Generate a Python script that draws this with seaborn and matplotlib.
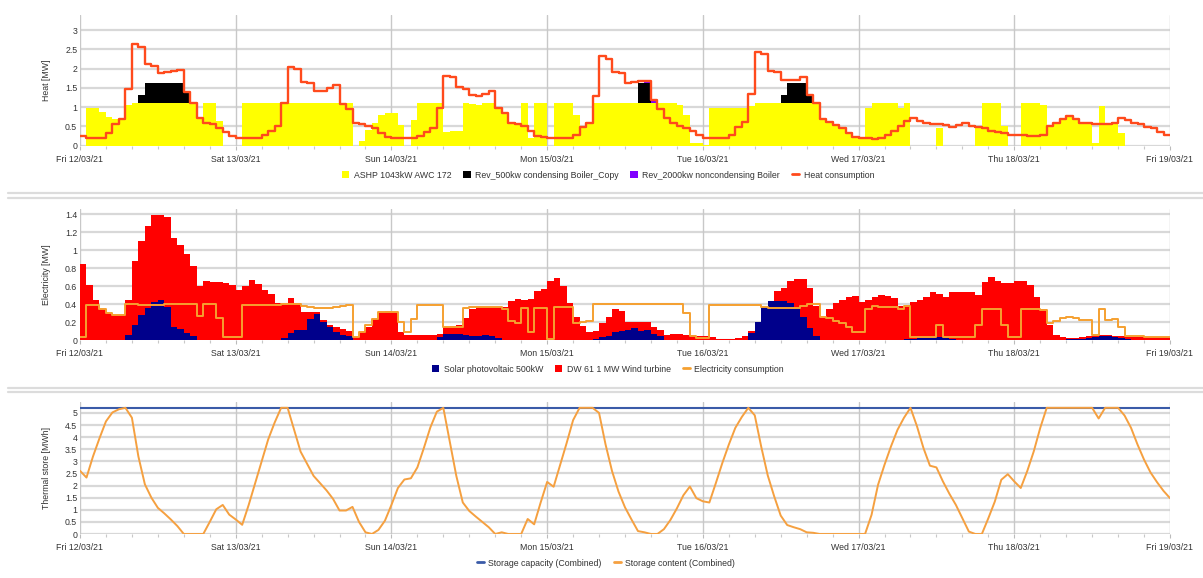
import numpy as np
import pandas as pd
import matplotlib
matplotlib.use("Agg")
import matplotlib.pyplot as plt
from matplotlib.patches import Patch
from matplotlib.lines import Line2D
import seaborn as sns

# ---------------- data (hourly, Fri 12/03/21 00:00 -> Fri 19/03/21 00:00) ----------------
day_labels = ["Fri 12/03/21", "Sat 13/03/21", "Sun 14/03/21", "Mon 15/03/21",
              "Tue 16/03/21", "Wed 17/03/21", "Thu 18/03/21", "Fri 19/03/21"]

heat_consumption = [
    0.25, 0.21, 0.21, 0.21, 0.34, 0.55, 0.69, 1.47, 2.63, 2.56, 2.13, 2.07, 1.88, 1.90, 1.93, 1.96, 1.40, 1.10, 0.71, 0.60, 0.55, 0.47, 0.35, 0.25,
    0.21, 0.21, 0.21, 0.21, 0.28, 0.39, 0.52, 1.12, 2.03, 1.99, 1.65, 1.62, 1.42, 1.42, 1.49, 1.58, 1.09, 0.94, 0.60, 0.57, 0.52, 0.45, 0.34, 0.23,
    0.21, 0.19, 0.19, 0.19, 0.25, 0.35, 0.45, 0.99, 1.81, 1.77, 1.51, 1.47, 1.31, 1.29, 1.33, 1.41, 0.99, 0.86, 0.58, 0.55, 0.51, 0.38, 0.25, 0.22,
    0.21, 0.21, 0.21, 0.21, 0.29, 0.49, 0.60, 1.30, 2.33, 2.26, 1.92, 1.89, 1.63, 1.66, 1.68, 1.69, 1.18, 0.94, 0.71, 0.60, 0.52, 0.45, 0.38, 0.28,
    0.21, 0.21, 0.21, 0.21, 0.28, 0.48, 0.62, 1.34, 2.44, 2.38, 1.94, 1.92, 1.70, 1.70, 1.70, 1.79, 1.31, 1.11, 0.68, 0.62, 0.54, 0.47, 0.34, 0.22,
    0.21, 0.21, 0.17, 0.20, 0.28, 0.38, 0.51, 0.65, 0.71, 0.65, 0.58, 0.55, 0.55, 0.54, 0.48, 0.54, 0.58, 0.52, 0.48, 0.45, 0.39, 0.35, 0.32, 0.28,
    0.29, 0.27, 0.26, 0.25, 0.28, 0.52, 0.60, 0.69, 0.78, 0.69, 0.60, 0.58, 0.56, 0.56, 0.56, 0.60, 0.71, 0.67, 0.60, 0.55, 0.49, 0.45, 0.36, 0.29,
]

ashp_heat = [
    0.00, 0.99, 0.99, 0.88, 0.75, 0.69, 0.69, 1.05, 1.10, 1.11, 1.11, 1.11, 1.11, 1.11, 1.11, 1.11, 1.11, 1.10, 0.69, 1.10, 1.10, 0.64, 0.00, 0.00,
    0.00, 1.10, 1.11, 1.10, 1.10, 1.11, 1.11, 1.11, 1.11, 1.11, 1.11, 1.11, 1.11, 1.11, 1.11, 1.11, 1.11, 1.11, 0.00, 0.13, 0.42, 0.58, 0.80, 0.86,
    0.86, 0.54, 0.00, 0.67, 1.11, 1.11, 1.11, 1.11, 0.36, 0.37, 0.38, 1.11, 1.09, 1.06, 1.11, 1.11, 0.99, 0.86, 0.58, 0.55, 1.11, 0.19, 1.11, 1.11,
    0.00, 1.11, 1.11, 1.11, 0.80, 0.49, 0.60, 1.11, 1.11, 1.11, 1.11, 1.11, 1.11, 1.11, 1.11, 1.11, 1.11, 1.11, 1.11, 1.11, 1.06, 0.80, 0.08, 0.06,
    0.03, 0.99, 0.99, 0.99, 0.99, 0.99, 0.99, 1.03, 1.11, 1.11, 1.11, 1.11, 1.11, 1.11, 1.11, 1.11, 1.11, 1.11, 0.68, 0.62, 0.54, 0.47, 0.34, 0.22,
    0.21, 0.99, 1.11, 1.11, 1.11, 1.11, 0.99, 1.11, 0.00, 0.00, 0.00, 0.00, 0.47, 0.00, 0.00, 0.00, 0.00, 0.00, 0.49, 1.11, 1.11, 1.11, 0.51, 0.00,
    0.00, 1.11, 1.11, 1.11, 1.05, 0.52, 0.60, 0.69, 0.78, 0.69, 0.60, 0.58, 0.08, 1.03, 0.56, 0.60, 0.34, 0.00, 0.00, 0.00, 0.00, 0.00, 0.00, 0.00,
]

# boiler outputs, given as (hour index, MW)
boiler500_hours = [9, 10, 11, 12, 13, 14, 15, 16, 86, 87, 108, 109, 110, 111, 112]
boiler500_mw = [0.20, 0.51, 0.51, 0.51, 0.51, 0.51, 0.51, 0.29, 0.51, 0.51, 0.20, 0.51, 0.51, 0.51, 0.20]
boiler2000_hours = [87, 88]
boiler2000_mw = [0.04, 0.06]

solar_pv = [
    0, 0, 0, 0, 0, 0, 0, 0.06, 0.17, 0.28, 0.36, 0.42, 0.44, 0.37, 0.14, 0.12, 0.08, 0.04, 0, 0, 0, 0, 0, 0,
    0, 0, 0, 0, 0, 0, 0, 0.02, 0.08, 0.11, 0.11, 0.23, 0.29, 0.20, 0.14, 0.09, 0.06, 0.04, 0, 0, 0, 0, 0, 0,
    0, 0, 0, 0, 0, 0, 0, 0.03, 0.07, 0.07, 0.07, 0.06, 0.05, 0.04, 0.06, 0.04, 0.02, 0, 0, 0, 0, 0, 0, 0,
    0, 0, 0, 0, 0, 0, 0, 0.01, 0.03, 0.04, 0.09, 0.10, 0.11, 0.13, 0.10, 0.11, 0.07, 0.04, 0, 0, 0, 0, 0, 0,
    0, 0, 0, 0, 0, 0, 0, 0.08, 0.20, 0.37, 0.43, 0.43, 0.43, 0.41, 0.36, 0.26, 0.13, 0.04, 0, 0, 0, 0, 0, 0,
    0, 0, 0, 0, 0, 0, 0, 0.01, 0.01, 0.02, 0.02, 0.05, 0.03, 0.02, 0.01, 0, 0, 0, 0, 0, 0, 0, 0, 0,
    0, 0, 0, 0, 0, 0, 0, 0, 0.01, 0.01, 0.01, 0.02, 0.03, 0.05, 0.04, 0.03, 0.02, 0.01, 0, 0, 0, 0, 0, 0,
]

# total renewable generation (solar + wind), the top of the red area
solar_plus_wind = [
    0.85, 0.61, 0.44, 0.34, 0.30, 0.28, 0.28, 0.45, 0.88, 1.10, 1.27, 1.39, 1.39, 1.37, 1.13, 1.06, 0.96, 0.82, 0.60, 0.66, 0.65, 0.64, 0.63, 0.61,
    0.56, 0.60, 0.67, 0.62, 0.56, 0.51, 0.41, 0.39, 0.47, 0.41, 0.31, 0.31, 0.31, 0.22, 0.17, 0.15, 0.12, 0.10, 0.03, 0.09, 0.15, 0.23, 0.31, 0.32,
    0.31, 0.09, 0.06, 0.06, 0.06, 0.06, 0.06, 0.07, 0.15, 0.16, 0.17, 0.24, 0.35, 0.37, 0.37, 0.37, 0.37, 0.37, 0.43, 0.46, 0.45, 0.46, 0.54, 0.57,
    0.66, 0.69, 0.60, 0.41, 0.26, 0.16, 0.09, 0.10, 0.19, 0.26, 0.34, 0.32, 0.20, 0.20, 0.20, 0.20, 0.15, 0.11, 0.06, 0.07, 0.07, 0.06, 0.06, 0.04,
    0.04, 0.03, 0.01, 0.01, 0.01, 0.02, 0.04, 0.10, 0.20, 0.35, 0.42, 0.54, 0.58, 0.66, 0.68, 0.68, 0.58, 0.38, 0.25, 0.34, 0.41, 0.45, 0.48, 0.49,
    0.42, 0.44, 0.48, 0.50, 0.49, 0.47, 0.38, 0.39, 0.42, 0.45, 0.48, 0.53, 0.51, 0.48, 0.53, 0.53, 0.53, 0.53, 0.50, 0.64, 0.70, 0.66, 0.63, 0.63,
    0.66, 0.66, 0.61, 0.48, 0.35, 0.17, 0.06, 0.03, 0.02, 0.02, 0.03, 0.04, 0.05, 0.06, 0.06, 0.05, 0.04, 0.03, 0.03, 0.03, 0.03, 0.03, 0.03, 0.03,
]

elec_consumption = [
    0.03, 0.39, 0.39, 0.34, 0.30, 0.28, 0.28, 0.40, 0.40, 0.39, 0.39, 0.39, 0.39, 0.40, 0.40, 0.40, 0.40, 0.40, 0.27, 0.40, 0.40, 0.25, 0.03, 0.03,
    0.03, 0.39, 0.39, 0.39, 0.39, 0.39, 0.39, 0.40, 0.40, 0.40, 0.38, 0.37, 0.36, 0.36, 0.36, 0.37, 0.38, 0.39, 0.03, 0.09, 0.17, 0.23, 0.31, 0.31,
    0.31, 0.20, 0.09, 0.23, 0.39, 0.39, 0.39, 0.39, 0.15, 0.15, 0.15, 0.36, 0.37, 0.37, 0.37, 0.37, 0.37, 0.35, 0.21, 0.19, 0.36, 0.09, 0.36, 0.36,
    0.01, 0.37, 0.37, 0.37, 0.19, 0.20, 0.21, 0.40, 0.40, 0.40, 0.40, 0.40, 0.40, 0.40, 0.40, 0.40, 0.40, 0.40, 0.40, 0.40, 0.40, 0.30, 0.04, 0.02,
    0.02, 0.39, 0.39, 0.39, 0.39, 0.39, 0.39, 0.39, 0.39, 0.37, 0.36, 0.36, 0.36, 0.36, 0.36, 0.38, 0.40, 0.40, 0.26, 0.24, 0.21, 0.19, 0.14, 0.09,
    0.09, 0.35, 0.38, 0.37, 0.37, 0.37, 0.34, 0.38, 0.03, 0.03, 0.03, 0.03, 0.17, 0.03, 0.03, 0.03, 0.03, 0.03, 0.17, 0.34, 0.34, 0.34, 0.17, 0.03,
    0.03, 0.34, 0.34, 0.34, 0.33, 0.19, 0.21, 0.24, 0.26, 0.25, 0.22, 0.22, 0.06, 0.35, 0.22, 0.23, 0.14, 0.04, 0.04, 0.04, 0.03, 0.03, 0.03, 0.03,
]

storage_content = [
    2.61, 2.33, 3.20, 3.95, 4.65, 5.02, 5.15, 5.21, 4.80, 3.20, 2.05, 1.50, 1.08, 0.85, 0.60, 0.33, 0.00, 0.00, 0.00, 0.00, 0.50, 1.02, 1.20, 0.80,
    0.60, 0.38, 1.20, 2.10, 3.00, 3.90, 4.60, 5.21, 5.21, 4.30, 3.40, 2.90, 2.40, 2.10, 1.80, 1.45, 0.97, 0.97, 1.12, 0.50, 0.07, 0.00, 0.17, 0.55,
    1.20, 1.90, 2.25, 2.30, 2.75, 3.55, 4.40, 5.05, 5.21, 3.80, 2.40, 1.30, 0.95, 0.72, 0.50, 0.28, 0.00, 0.07, 0.00, 0.00, 0.00, 0.62, 0.40, 1.30,
    2.15, 1.95, 2.85, 3.75, 4.70, 5.21, 5.21, 5.21, 5.00, 3.70, 2.60, 1.75, 1.10, 0.60, 0.12, 0.07, 0.00, 0.00, 0.20, 0.58, 1.06, 1.60, 1.96, 1.48,
    1.35, 1.30, 2.10, 2.93, 3.69, 4.38, 4.83, 5.21, 4.90, 3.60, 2.42, 1.55, 0.76, 0.37, 0.28, 0.20, 0.07, 0.05, 0.00, 0.00, 0.00, 0.00, 0.00, 0.00,
    0.00, 0.00, 0.79, 2.03, 2.86, 3.62, 4.30, 4.80, 5.21, 4.45, 3.55, 2.82, 2.75, 2.17, 1.66, 1.20, 0.65, 0.10, 0.00, 0.00, 0.65, 1.34, 2.24, 2.47,
    2.17, 1.90, 2.60, 3.41, 4.38, 5.21, 5.21, 5.21, 5.21, 5.21, 5.21, 5.21, 5.21, 4.77, 5.21, 5.21, 5.21, 4.89, 4.38, 3.69, 3.07, 2.54, 2.14, 1.78,
    1.48,
]
storage_capacity = 5.21

# ---------------- derived tables ----------------
n = len(heat_consumption)
hours = np.arange(n + 1)

def ext(v):
    v = list(v)
    return np.array(v + [v[-1]], dtype=float)

boiler500 = np.zeros(n)
boiler500[boiler500_hours] = boiler500_mw
boiler2000 = np.zeros(n)
boiler2000[boiler2000_hours] = boiler2000_mw

ashp_e = ext(ashp_heat)
b500_top = ext(np.array(ashp_heat) + boiler500)
b2000_top = ext(np.array(ashp_heat) + boiler500 + boiler2000)
solar_e = ext(solar_pv)
total_e = ext(np.maximum(solar_plus_wind, solar_pv))

heat_df = pd.DataFrame({"hour": hours, "MW": ext(heat_consumption)})
elec_df = pd.DataFrame({"hour": hours, "MW": ext(elec_consumption)})
store_df = pd.DataFrame({"hour": np.arange(len(storage_content)), "MWh": storage_content})
cap_df = pd.DataFrame({"hour": [0, n], "MWh": [storage_capacity, storage_capacity]})

# ---------------- styling ----------------
sns.set_theme(style="white")
plt.rcParams["font.family"] = ["Liberation Sans", "DejaVu Sans"]

W, H = 1203, 578
fig = plt.figure(figsize=(W / 100, H / 100), dpi=100)
fig.patch.set_facecolor("white")

left, right = 80 / W, 1170 / W

def axes_px(top_px, bottom_px):
    return fig.add_axes([left, 1 - bottom_px / H, right - left, (bottom_px - top_px) / H])

ax1 = axes_px(15, 145.7)
ax2 = axes_px(209, 340)
ax3 = axes_px(402, 534)

TICK_FS = 6.3
TXT = "#333333"

def style_axis(ax, ymax, yticks, ylabels):
    ax.set_xlim(0, n)
    ax.set_ylim(0, ymax)
    for s in ax.spines.values():
        s.set_visible(False)
    ax.set_yticks(yticks)
    ax.set_yticklabels(ylabels)
    ax.set_xticks(np.arange(0, n + 1, 24))
    ax.set_xticklabels(day_labels)
    ax.set_xticks(np.arange(0, n + 1, 4), minor=True)
    ax.tick_params(axis="x", which="major", length=3, width=0.8, color="#bbbbbb",
                   labelsize=TICK_FS, labelcolor=TXT, pad=3.5, direction="out", bottom=True)
    ax.tick_params(axis="x", which="minor", length=2.2, width=0.8, color="#c8c8c8",
                   direction="out", bottom=True)
    ax.tick_params(axis="y", which="major", length=0, labelsize=TICK_FS, labelcolor=TXT, pad=2)
    for yv in yticks:
        ax.axhline(yv, color="#d8d8d8", lw=1.6, zorder=0.5)
    for xv in np.arange(0, n + 1, 24):
        ax.axvline(xv, color="#c8c8c8", lw=1.0, zorder=0.6)
    ax.set_xlabel("")
    ax.set_ylabel("")

# ---------------- panel 1 : heat ----------------
c_ashp, c_b500, c_b2000, c_heat = "#ffff00", "#000000", "#8000ff", "#ff4a1c"
ax1.fill_between(hours, 0, ashp_e, step="post", color=c_ashp, lw=0, zorder=1)
ax1.fill_between(hours, ashp_e, b500_top, step="post", color=c_b500, lw=0, zorder=1.1)
ax1.fill_between(hours, b500_top, b2000_top, step="post", color=c_b2000, lw=0, zorder=1.2)
sns.lineplot(data=heat_df, x="hour", y="MW", ax=ax1, drawstyle="steps-post",
             color=c_heat, lw=1.7, zorder=3)
style_axis(ax1, 3.39, np.arange(0, 3.01, 0.5), ["0", "0.5", "1", "1.5", "2", "2.5", "3"])

# ---------------- panel 2 : electricity ----------------
c_solar, c_wind, c_elec = "#00008b", "#ff0000", "#f5a030"
ax2.fill_between(hours, 0, solar_e, step="post", color=c_solar, lw=0, zorder=1.1)
ax2.fill_between(hours, solar_e, total_e, step="post", color=c_wind, lw=0, zorder=1)
sns.lineplot(data=elec_df, x="hour", y="MW", ax=ax2, drawstyle="steps-post",
             color=c_elec, lw=1.4, zorder=3)
style_axis(ax2, 1.456, np.arange(0, 1.41, 0.2), ["0", "0.2", "0.4", "0.6", "0.8", "1", "1.2", "1.4"])

# ---------------- panel 3 : thermal store ----------------
c_cap, c_cont = "#3a5ba8", "#f5a040"
sns.lineplot(data=cap_df, x="hour", y="MWh", ax=ax3, color=c_cap, lw=1.5, zorder=2)
sns.lineplot(data=store_df, x="hour", y="MWh", ax=ax3, color=c_cont, lw=1.4, zorder=3)
style_axis(ax3, 5.45, np.arange(0, 5.01, 0.5),
           ["0", "0.5", "1", "1.5", "2", "2.5", "3", "3.5", "4", "4.5", "5"])

# ---------------- y labels ----------------
for txt, top_px, bot_px in [("Heat [MW]", 15, 145.7), ("Electricity [MW]", 209, 340),
                            ("Thermal store [MWh]", 402, 534)]:
    fig.text(46 / W, 1 - (top_px + bot_px) / 2 / H, txt, rotation=90,
             ha="center", va="center", fontsize=TICK_FS, color=TXT)

# ---------------- legends ----------------
LEG_FS = 6.3

def sq(c):
    return Patch(facecolor=c, edgecolor="none")

def ln(c):
    return Line2D([0], [0], color=c, lw=2)

leg_kw = dict(loc="center", frameon=False, fontsize=LEG_FS, handlelength=0.85,
              handleheight=0.85, handletextpad=0.5, columnspacing=1.35, borderaxespad=0)
l1 = fig.legend([sq(c_ashp), sq(c_b500), sq(c_b2000), ln(c_heat)],
                ["ASHP 1043kW AWC 172", "Rev_500kw condensing Boiler_Copy",
                 "Rev_2000kw noncondensing Boiler", "Heat consumption"],
                ncol=4, bbox_to_anchor=(608 / W, 1 - 175 / H), **leg_kw)
l2 = fig.legend([sq(c_solar), sq(c_wind), ln(c_elec)],
                ["Solar photovoltaic 500kW", "DW 61 1 MW Wind turbine", "Electricity consumption"],
                ncol=3, bbox_to_anchor=(608 / W, 1 - 369 / H), **leg_kw)
l3 = fig.legend([ln(c_cap), ln(c_cont)],
                ["Storage capacity (Combined)", "Storage content (Combined)"],
                ncol=2, bbox_to_anchor=(606 / W, 1 - 563 / H), **leg_kw)
for lg in (l1, l2, l3):
    for t in lg.get_texts():
        t.set_color(TXT)

# ---------------- panel separators ----------------
for ypx in (193.3, 197.7, 387.7, 391.7):
    fig.add_artist(Line2D([8 / W, 1.0], [1 - ypx / H, 1 - ypx / H], color="#dcdcdc",
                          lw=1.6, transform=fig.transFigure))

fig.savefig("out.png", dpi=100, facecolor="white")
